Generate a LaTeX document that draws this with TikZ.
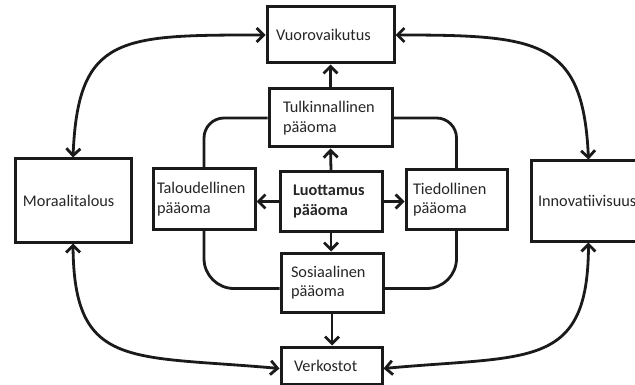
\documentclass[tikz,border=0pt]{standalone}
\usepackage{fontspec}
\setmainfont{Carlito}
\usetikzlibrary{arrows.meta}
\definecolor{ink}{HTML}{1A1A1A}
\definecolor{txt}{HTML}{262626}
\tikzset{
  box/.style n args={4}{draw=ink, line width=3pt, fill=white, align=left,
    text=txt, font=\fontsize{16.3}{19.5}\selectfont,
    inner ysep=0pt, inner xsep=#3, text width=#1-2*#3, minimum height=#2,
    #4},
  conn/.style={draw=ink, line width=2.8pt},
  arr/.style={conn, -{Straight Barb[length=7pt,width=14pt]}},
  biarr/.style={conn, {Straight Barb[length=7pt,width=14pt]}-{Straight Barb[length=7pt,width=14pt]}},
}
\begin{document}
\begin{tikzpicture}[x=1pt,y=-1pt]
\path[use as bounding box] (0,0) rectangle (635,385);
\clip (0,0) rectangle (635,385);
\fill[white] (0,0) rectangle (635,385);

% outer ring
\node[box={127pt}{56pt}{9pt}{}]   (vuo)  at (330.5,35)  {Vuorovaikutus};
\node[box={116pt}{83pt}{8pt}{}]   (mora) at (73,200.5)  {Moraalitalous};
\node[box={115pt}{80pt}{7pt}{}]   (inno) at (588.5,201) {Innovatiivisuus};
\node[box={101pt}{37pt}{13pt}{}]  (verk) at (331.5,365.5) {Verkostot};

% inner capitals
\node[box={123pt}{58pt}{14pt}{}]  (tulk) at (330.5,118) {Tulkinnallinen\\pääoma};
\node[box={102pt}{60pt}{4pt}{}]   (talo) at (204,199)   {Taloudellinen\\pääoma};
\node[box={102pt}{59pt}{13pt}{font=\fontsize{16.3}{19.5}\selectfont\bfseries}]
                                  (luot) at (331,201.5) {Luottamus\\pääoma};
\node[box={101pt}{59pt}{7pt}{}]   (tied) at (456.5,199.5) {Tiedollinen\\pääoma};
\node[box={102pt}{59pt}{10pt}{}]  (sos)  at (332,282.5) {Sosiaalinen\\pääoma};

% links between the inner capitals
\draw[conn, rounded corners=20pt] (talo.north) |- (tulk.west);
\draw[conn, rounded corners=20pt] (tied.north) |- (tulk.east);
\draw[conn, rounded corners=30pt] (talo.south) |- ([yshift=-6pt]sos.west);
\draw[conn, rounded corners=30pt] (tied.south) |- ([yshift=-6pt]sos.east);

% trust capital feeds the others
\draw[arr] (luot.north) -- (tulk.south);
\draw[arr] (luot.west) -- (luot.west -| talo.east);
\draw[arr] (luot.east) -- (luot.east -| tied.west);
\draw[arr] (luot.south) -- (luot.south |- sos.north);
\draw[arr] (tulk.north) -- (tulk.north |- vuo.south);
\draw[arr] (sos.south) -- (sos.south |- verk.north);

% outer two-way curves
\draw[biarr] (vuo.west) .. controls (120,35) and (78,35) .. (mora.north);
\draw[biarr] (vuo.east) .. controls (540,35) and (583,40) .. (inno.north);
\draw[biarr] (mora.south) .. controls (74,370) and (130,355) .. ([yshift=-3pt]verk.west);
\draw[biarr] (inno.south) .. controls (588,370) and (530,355) .. ([yshift=-3pt]verk.east);
\end{tikzpicture}
\end{document}
